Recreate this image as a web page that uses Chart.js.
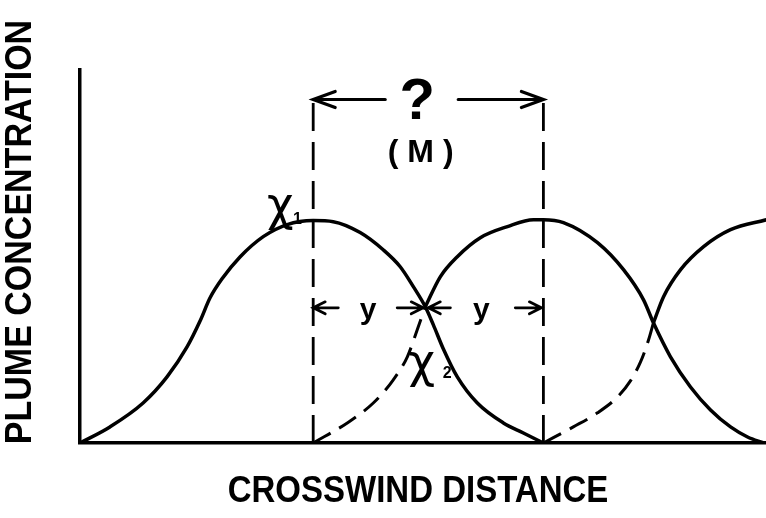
<!DOCTYPE html>
<html>
<head>
<meta charset="utf-8">
<script src="https://cdn.jsdelivr.net/npm/chart.js@4.4.1/dist/chart.umd.min.js"></script>
<style>
  html, body { margin: 0; padding: 0; background: #fff; }
  #wrap { width: 766px; height: 518px; position: relative; }
</style>
</head>
<body>
<div id="wrap"><canvas id="plumeChart"></canvas></div>
<script>
// crosswind distance (arbitrary units) and concentration (peak ~ 100)
const plume1X = [0, 1.30, 2.74, 3.78, 4.65, 5.22, 5.65, 6.17, 6.96, 7.96, 9.0, 10.13, 11.0, 12.17, 13.17, 13.91, 14.48, 15.0, 15.35, 15.78, 16.39, 17.26, 18.39, 19.26, 20.13];
const plume1Y = [0, 7.2, 17.9, 29.6, 43.0, 54.7, 65.0, 73.5, 83.4, 92.4, 97.8, 99.6, 99.1, 94.2, 86.5, 78.9, 70.0, 61.0, 52.9, 42.2, 29.6, 17.9, 9.0, 4.5, 0];

// second plume: hidden (dashed) rising edge, then visible part
const plume2HiddenX = [10.13, 11.61, 12.74, 13.61, 14.22, 14.65, 15.0];
const plume2HiddenY = [0, 9.0, 17.9, 28.3, 38.6, 50.7, 61.0];
const plume2X = [15.0, 15.65, 16.39, 17.39, 18.57, 19.70, 20.13, 21.0, 22.48, 23.61, 24.48, 24.91, 25.65, 26.52, 27.39, 28.26, 29.0, 29.7];
const plume2Y = [61.0, 74.4, 83.4, 91.9, 96.9, 100, 100, 98.7, 89.7, 77.6, 64.1, 53.8, 38.6, 25.1, 14.8, 7.2, 2.7, 0];

// third plume, cut off at the right edge
const plume3HiddenX = [20.13, 21.43, 22.48, 23.35, 23.91, 24.35, 24.70, 24.91];
const plume3HiddenY = [0, 7.2, 13.5, 20.6, 27.8, 36.3, 46.2, 53.8];
const plume3X = [24.91, 25.35, 26.09, 27.09, 28.26, 29.83];
const plume3Y = [53.8, 65.5, 77.6, 87.9, 95.5, 100];

// plume centre lines (dashed guides)
const peakX = [10.13, 20.13];
const guideTop = 154.7;

function pts(xs, ys) {
    return xs.map(function(x, i) { return { x: x, y: ys[i] }; });
}

function solid(xs, ys) {
    return { data: pts(xs, ys), showLine: true, borderColor: '#000', borderWidth: 3.5, pointRadius: 0,
             cubicInterpolationMode: 'monotone' };
}

function dashed(xs, ys) {
    const ds = solid(xs, ys);
    ds.borderDash = [20, 10];
    ds.borderWidth = 3;
    return ds;
}

const guides = peakX.map(function(px) {
    return { data: [{ x: px, y: 0 }, { x: px, y: guideTop }], showLine: true, borderColor: '#000',
             borderWidth: 2.8, borderDash: [28, 11], pointRadius: 0 };
});

function arrow(ctx, x1, y1, x2, y2, len, half) {
    const dir = x2 > x1 ? 1 : -1;
    ctx.beginPath();
    ctx.moveTo(x1, y1);
    ctx.lineTo(x2, y2);
    ctx.moveTo(x2 - dir * len, y2 - half);
    ctx.lineTo(x2, y2);
    ctx.lineTo(x2 - dir * len, y2 + half);
    ctx.stroke();
}

const annotations = {
    id: 'annotations',
    afterDatasetsDraw(chart) {
        const ctx = chart.ctx;
        const x = chart.scales.x, y = chart.scales.y;
        ctx.save();
        ctx.strokeStyle = '#000';
        ctx.fillStyle = '#000';
        ctx.lineWidth = 3.2;
        ctx.lineCap = 'round';

        // spacing arrows between the plume centres
        const yTop = y.getPixelForValue(153.8);
        arrow(ctx, x.getPixelForValue(13.26), yTop, x.getPixelForValue(peakX[0]), yTop, 22, 8);
        arrow(ctx, x.getPixelForValue(16.43), yTop, x.getPixelForValue(peakX[1]), yTop, 22, 8);

        const yMid = y.getPixelForValue(60.5);
        ctx.lineWidth = 2.8;
        arrow(ctx, x.getPixelForValue(11.22), yMid, x.getPixelForValue(peakX[0]), yMid, 12, 6);
        arrow(ctx, x.getPixelForValue(13.78), yMid, x.getPixelForValue(14.91), yMid, 12, 6);
        arrow(ctx, x.getPixelForValue(16.09), yMid, x.getPixelForValue(15.13), yMid, 12, 6);
        arrow(ctx, x.getPixelForValue(18.91), yMid, x.getPixelForValue(peakX[1]) - 2, yMid, 12, 6);

        ctx.textAlign = 'center';
        ctx.textBaseline = 'alphabetic';
        ctx.font = 'bold 58px "Liberation Sans"';
        ctx.fillText('?', x.getPixelForValue(14.65), y.getPixelForValue(145));
        ctx.font = 'bold 32px "Liberation Sans"';
        ctx.fillText('( M )', x.getPixelForValue(14.8), y.getPixelForValue(126));

        ctx.font = 'bold 30px "Liberation Sans"';
        ctx.fillText('y', x.getPixelForValue(12.52), y.getPixelForValue(55.5));
        ctx.fillText('y', x.getPixelForValue(17.43), y.getPixelForValue(55.5));

        // concentration labels
        ctx.textBaseline = 'middle';
        ctx.font = '46px "DejaVu Sans"';
        ctx.fillText('\u03c7', x.getPixelForValue(8.7), y.getPixelForValue(105));
        ctx.fillText('\u03c7', x.getPixelForValue(14.85), y.getPixelForValue(35));
        ctx.font = 'bold 16px "Liberation Sans"';
        ctx.fillText('1', x.getPixelForValue(9.45), y.getPixelForValue(100));
        ctx.fillText('2', x.getPixelForValue(15.95), y.getPixelForValue(31));

        // axis titles
        ctx.font = 'bold 34px "Liberation Sans"';
        ctx.save();
        ctx.translate(21, 232);
        ctx.rotate(-Math.PI / 2);
        ctx.scale(1, 1.1);
        ctx.fillText('PLUME CONCENTRATION', 0, 0);
        ctx.restore();

        ctx.save();
        ctx.translate(418, 492);
        ctx.scale(1, 1.1);
        ctx.font = 'bold 33px "Liberation Sans"';
        ctx.fillText('CROSSWIND DISTANCE', 0, 0);
        ctx.restore();

        ctx.restore();
    }
};

new Chart(document.getElementById('plumeChart'), {
    type: 'scatter',
    data: {
        datasets: [
            solid(plume1X, plume1Y),
            dashed(plume2HiddenX, plume2HiddenY),
            solid(plume2X, plume2Y),
            dashed(plume3HiddenX, plume3HiddenY),
            solid(plume3X, plume3Y)
        ].concat(guides)
    },
    options: {
        responsive: true,
        maintainAspectRatio: false,
        animation: false,
        layout: { padding: { left: 80, top: 70, right: 0, bottom: 75 } },
        plugins: { legend: { display: false }, tooltip: { enabled: false } },
        scales: {
            x: {
                type: 'linear', min: 0, max: 29.8,
                grid: { display: false, drawTicks: false },
                border: { color: '#000', width: 3.5 },
                ticks: { display: false }
            },
            y: {
                min: 0, max: 167,
                grid: { display: false, drawTicks: false },
                border: { color: '#000', width: 3.5 },
                ticks: { display: false }
            }
        }
    },
    plugins: [annotations]
});
</script>
</body>
</html>
